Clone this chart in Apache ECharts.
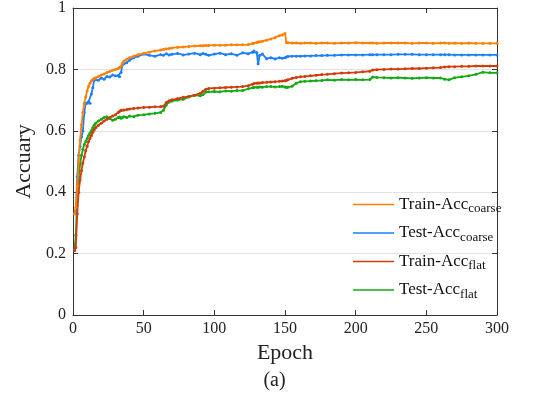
<!DOCTYPE html>
<html><head><meta charset="utf-8">
<script src="https://cdn.jsdelivr.net/npm/echarts@6/dist/echarts.min.js"></script>
<style>html,body{margin:0;padding:0;background:#fff}#c{width:549px;height:411px}</style>
</head><body><div id="c"></div>
<script>
const epochs = [1,2,3,4,5,6,7,8,9,10,11,12,13,14,15,16,18,20,22,24,26,28,30,32,33,34,35,36,38,40,43,46,50,54,58,62,64,66,68,70,74,78,82,86,90,92,94,96,100,104,108,112,116,120,124,127,128,130,131,132,134,137,140,143,146,148,150,151,152,155,158,161,164,168,172,176,180,185,190,195,200,205,210,212,215,220,225,230,235,240,245,250,255,260,263,266,270,275,280,285,290,295,300];
const trainCoarse = [0.33,0.35,0.42,0.50,0.57,0.62,0.66,0.69,0.71,0.73,0.745,0.755,0.762,0.767,0.77,0.773,
 0.777,0.782,0.785,0.79,0.793,0.797,0.80,0.803,
 0.806,0.81,0.82,0.827,0.833,0.838,0.843,0.848,0.852,
 0.856,0.86,0.863,0.865,0.867,0.868,0.87,0.872,0.873,0.875,0.876,0.877,0.877,0.878,0.878,0.879,
 0.879,0.879,0.88,0.88,0.88,0.881,0.884,0.885,0.888,0.889,0.89,0.892,0.895,0.899,0.904,0.91,0.912,0.917,0.888,0.887,
 0.886,0.886,0.885,0.886,0.886,0.885,0.886,0.886,0.885,0.886,0.886,0.887,
 0.886,0.886,0.886,0.885,0.886,0.886,0.886,0.886,0.885,0.886,0.886,
 0.885,0.886,0.886,0.885,0.886,0.885,0.886,0.885,0.885,0.885,0.885];
const testCoarse = [0.33,0.34,0.45,0.52,0.55,0.58,0.60,0.66,0.69,0.69,0.695,0.69,0.72,0.74,0.765,0.77,
 0.765,0.772,0.768,0.777,0.775,0.782,0.779,0.78,
 0.776,0.79,0.815,0.818,0.822,0.83,0.838,0.843,0.85,
 0.846,0.843,0.848,0.846,0.851,0.847,0.849,0.852,0.847,0.85,0.853,0.848,0.852,0.849,0.846,0.85,
 0.853,0.848,0.851,0.846,0.854,0.851,0.856,0.86,0.855,0.818,0.845,0.85,0.835,0.838,0.834,0.838,0.836,0.838,0.84,0.842,
 0.843,0.843,0.843,0.844,0.844,0.845,0.845,0.846,0.846,0.847,0.847,0.847,
 0.847,0.848,0.848,0.848,0.848,0.848,0.849,0.849,0.849,0.848,0.848,
 0.848,0.848,0.848,0.848,0.847,0.847,0.847,0.847,0.847,0.847,0.847];
const trainFlat = [0.21,0.22,0.33,0.40,0.44,0.47,0.495,0.515,0.535,0.55,0.565,0.575,0.585,0.595,0.603,0.61,
 0.618,0.625,0.632,0.638,0.643,0.648,0.652,0.66,
 0.664,0.667,0.667,0.668,0.669,0.671,0.673,0.674,0.676,
 0.677,0.678,0.679,0.68,0.692,0.698,0.701,0.705,0.709,0.712,0.716,0.722,0.729,0.735,0.738,0.739,
 0.74,0.741,0.742,0.743,0.744,0.747,0.752,0.754,0.755,0.756,0.756,0.757,0.758,0.759,0.76,0.761,0.762,0.763,0.764,0.766,
 0.771,0.774,0.776,0.777,0.779,0.781,0.783,0.784,0.786,0.788,0.789,0.79,
 0.792,0.794,0.798,0.799,0.8,0.801,0.801,0.802,0.803,0.803,0.804,
 0.805,0.806,0.808,0.809,0.809,0.81,0.81,0.811,0.811,0.811,0.811];
const testFlat = [0.21,0.26,0.40,0.45,0.49,0.52,0.54,0.555,0.565,0.575,0.585,0.593,0.60,0.61,0.618,0.625,
 0.632,0.638,0.643,0.646,0.64,0.634,0.638,0.643,
 0.645,0.641,0.644,0.646,0.643,0.648,0.646,0.651,0.652,
 0.655,0.657,0.66,0.667,0.684,0.694,0.697,0.70,0.703,0.71,0.716,0.714,0.718,0.726,0.727,0.728,
 0.727,0.73,0.729,0.731,0.731,0.737,0.74,0.741,0.742,0.742,0.743,0.742,0.744,0.744,0.743,0.744,0.745,0.743,0.741,0.742,
 0.745,0.755,0.76,0.761,0.762,0.763,0.764,0.766,0.765,0.767,0.766,0.767,
 0.766,0.767,0.775,0.774,0.773,0.772,0.773,0.772,0.771,0.772,0.773,
 0.772,0.772,0.768,0.766,0.773,0.776,0.779,0.784,0.791,0.789,0.789];
const seriesNames = ['Train-Acc{sub|coarse}','Test-Acc{sub|coarse}','Train-Acc{sub|flat}','Test-Acc{sub|flat}'];
const seriesColors = ['#FF8000','#1A80FF','#D23C0A','#14AA14'];
const xTicks = [0,50,100,150,200,250,300];
const yTicks = [0,0.2,0.4,0.6,0.8,1];

const font = 'Liberation Serif';
const allData = [trainCoarse, testCoarse, trainFlat, testFlat];
const chart = echarts.init(document.getElementById('c'), null, {renderer:'canvas'});
const axisCol = '#333';
function mkX(pos, show){
  return {type:'value', position:pos, min:xTicks[0], max:xTicks[xTicks.length-1], interval:50,
    axisLine:{show:true, onZero:false, lineStyle:{color:axisCol,width:1}},
    axisTick:{show:true, inside:true, length:5, lineStyle:{color:axisCol}},
    axisLabel:{show:show, margin:6, fontFamily:font, fontSize:16, color:'#222'},
    splitLine:{show:false},
    name: show ? 'Epoch' : '', nameLocation:'middle', nameGap:27,
    nameTextStyle:{fontFamily:font, fontSize:22, color:'#222'}};
}
function mkY(pos, show){
  return {type:'value', position:pos, min:yTicks[0], max:yTicks[yTicks.length-1], interval:0.2,
    axisLine:{show:true, onZero:false, lineStyle:{color:axisCol,width:1}},
    axisTick:{show:true, inside:true, length:5, lineStyle:{color:axisCol}},
    axisLabel:{show:show, margin:7, fontFamily:font, fontSize:16, color:'#222',
      formatter: v => String(Math.round(v*10)/10)},
    splitLine:{show:show, lineStyle:{color:'#e3e3e3', width:1}},
    name: show ? 'Accuary' : '', nameLocation:'middle', nameGap:28,
    nameTextStyle:{fontFamily:font, fontSize:22, color:'#222'}};
}
const series = allData.map((d,i)=>({
  name: seriesNames[i], type:'line',
  data: epochs.map((e,j)=>[e,d[j]]),
  symbol:'circle', symbolSize:3, showSymbol:true,
  lineStyle:{width:1.8, color:seriesColors[i]},
  itemStyle:{color:seriesColors[i]},
  z: 10-i, animation:false
}));
chart.setOption({
  animation:false,
  textStyle:{fontFamily:font},
  grid:{left:73, right:52, top:7, bottom:96, containLabel:false},
  xAxis:[mkX('bottom',true), mkX('top',false)],
  yAxis:[mkY('left',true), mkY('right',false)],
  legend:{orient:'vertical', left:353, top:196, padding:0, itemGap:9, itemWidth:41, itemHeight:6,
    icon:'path://M0,2.2 L40,2.2 L40,3.8 L0,3.8 Z',
    data: seriesNames.map((n,i)=>({name:n, itemStyle:{color:seriesColors[i]}})),
    textStyle:{fontFamily:font, fontSize:17, color:'#111',
      rich:{sub:{fontFamily:font, fontSize:13, color:'#111', padding:[9,0,0,0]}}},
    itemStyle:{borderWidth:0}
  },
  graphic:[{type:'text', left:'center', top:371, style:{text:'(a)', font:'20px "Liberation Serif"', fill:'#222'}}],
  series: series
});
</script></body></html>
